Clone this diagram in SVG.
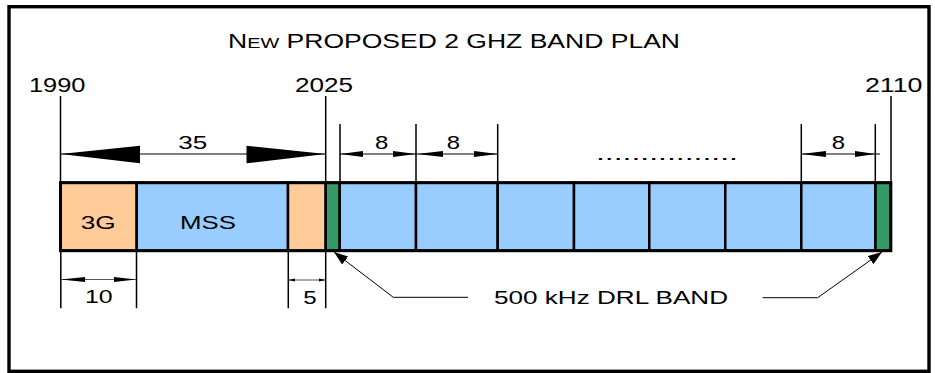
<svg xmlns="http://www.w3.org/2000/svg" width="935" height="373" viewBox="0 0 935 373">
<defs>
<style>
text{font-family:"Liberation Sans",Arial,sans-serif;fill:#000;}
.t{font-size:20px;}
.s{font-size:19px;}
.ext{stroke:#000;stroke-width:1.5;fill:none;}
.dim{stroke:#000;stroke-width:1;fill:none;}
.dimg{stroke:#555;stroke-width:1;fill:none;}
.cell{stroke:#000;stroke-width:2.5;}
.or{fill:#FFCC99;}
.bl{fill:#99CCFF;}
.gr{fill:#339966;}
.head{fill:#000;}
</style>
<marker id="arr" viewBox="0 0 14 10" refX="14" refY="5" markerWidth="14" markerHeight="10" markerUnits="userSpaceOnUse" orient="auto">
<path d="M0,0 L14,5 L0,10 z" fill="#000"/>
</marker>
</defs>
<rect x="0" y="0" width="935" height="373" fill="#fff"/>
<rect id="frame" x="9" y="6.7" width="920" height="364.6" fill="none" stroke="#000" stroke-width="3.4"/>
<g id="title">
<text x="228" y="48" class="t" textLength="452" lengthAdjust="spacingAndGlyphs">N<tspan font-size="15">EW</tspan> PROPOSED 2 GHZ BAND PLAN</text>
</g>
<g id="labels">
<text x="29" y="91.5" class="t" textLength="56.5" lengthAdjust="spacingAndGlyphs">1990</text>
<text x="295" y="91.5" class="t" textLength="58" lengthAdjust="spacingAndGlyphs">2025</text>
<text x="865" y="91.5" class="t" textLength="57.5" lengthAdjust="spacingAndGlyphs">2110</text>
</g>
<g id="band">
<g id="cell-3g"><rect class="cell or" x="60.5" y="182.7" width="76.2" height="68"/><text x="80.7" y="229" class="s" textLength="35" lengthAdjust="spacingAndGlyphs">3G</text></g>
<g id="cell-mss"><rect class="cell bl" x="136.7" y="182.7" width="151.3" height="68"/><text x="180" y="229" class="s" textLength="56" lengthAdjust="spacingAndGlyphs">MSS</text></g>
<g id="cell-or2"><rect class="cell or" x="288" y="182.7" width="37.7" height="68"/></g>
<g id="cell-drl1"><rect class="cell gr" x="325.7" y="182.7" width="14" height="68"/></g>
<g id="cell-b1"><rect class="cell bl" x="339.7" y="182.7" width="76.3" height="68"/></g>
<g id="cell-b2"><rect class="cell bl" x="416" y="182.7" width="81.7" height="68"/></g>
<g id="cell-b3"><rect class="cell bl" x="497.7" y="182.7" width="76.3" height="68"/></g>
<g id="cell-b4"><rect class="cell bl" x="574" y="182.7" width="75.3" height="68"/></g>
<g id="cell-b5"><rect class="cell bl" x="649.3" y="182.7" width="76" height="68"/></g>
<g id="cell-b6"><rect class="cell bl" x="725.3" y="182.7" width="76" height="68"/></g>
<g id="cell-b7"><rect class="cell bl" x="801.3" y="182.7" width="74.2" height="68"/></g>
<g id="cell-drl2"><rect class="cell gr" x="875.5" y="182.7" width="15.3" height="68"/></g>
<rect x="60.5" y="182.7" width="830.3" height="68" fill="none" stroke="#000" stroke-width="3"/>
</g>
<g id="dimension-texts">
<text x="178.3" y="149" class="s" textLength="29" lengthAdjust="spacingAndGlyphs">35</text>
<text x="375" y="149" class="s" textLength="13.3" lengthAdjust="spacingAndGlyphs">8</text>
<text x="446.7" y="149" class="s" textLength="13.3" lengthAdjust="spacingAndGlyphs">8</text>
<text x="831.7" y="149" class="s" textLength="13.3" lengthAdjust="spacingAndGlyphs">8</text>
<text x="596" y="159.5" class="s" textLength="142" lengthAdjust="spacingAndGlyphs">................</text>
<text x="85" y="303.3" class="s" textLength="27.7" lengthAdjust="spacingAndGlyphs">10</text>
<text x="303.3" y="304" class="s" textLength="13.4" lengthAdjust="spacingAndGlyphs">5</text>
<text x="494" y="304.3" class="s" textLength="234" lengthAdjust="spacingAndGlyphs">500 kHz DRL BAND</text>
</g>
<g id="connectors">
<path class="ext" d="M60.5,96 V182.7 M325.7,96 V182.7 M891,96 V182.7 M340,124 V182.7 M416,124 V182.7 M497.7,124 V182.7 M801.3,124 V182.7 M875.3,124 V182.7"/>
<path class="ext" d="M60.8,250.7 V308.3 M136.5,250.7 V308.3 M288.3,250.7 V308.3 M325.7,250.7 V308.3"/>
<path class="dim" d="M60.5,154 H325.7"/>
<polygon class="head" points="60.5,154 140,145.7 140,163.3"/>
<polygon class="head" points="325.7,154 246.5,145.7 246.5,163.3"/>
<path class="dim" d="M340,154 H416 M416,154 H497.7 M801.3,154 H880"/>
<polygon class="head" points="340,154 363,151 363,157"/>
<polygon class="head" points="416,154 393,151 393,157"/>
<polygon class="head" points="417,154 443,151 443,157"/>
<polygon class="head" points="497.7,154 474,151 474,157"/>
<polygon class="head" points="801.3,154 826,151 826,157"/>
<polygon class="head" points="875.3,154 855,151 855,157"/>
<path class="dimg" d="M61,279.5 H136"/>
<polygon class="head" points="61,279.5 85,277 85,282"/>
<polygon class="head" points="136,279.5 114,277 114,282"/>
<path class="dimg" d="M288.3,280 H325.7"/>
<polygon class="head" points="288.3,280 295,278.5 295,281.5"/>
<polygon class="head" points="325.7,280 319,278.5 319,281.5"/>
<path class="dim" d="M468,297.3 H393.3 L334,252" marker-end="url(#arr)"/>
<path class="dim" d="M762.7,297.7 H817.7 L882,252" marker-end="url(#arr)"/>
</g>
</svg>
